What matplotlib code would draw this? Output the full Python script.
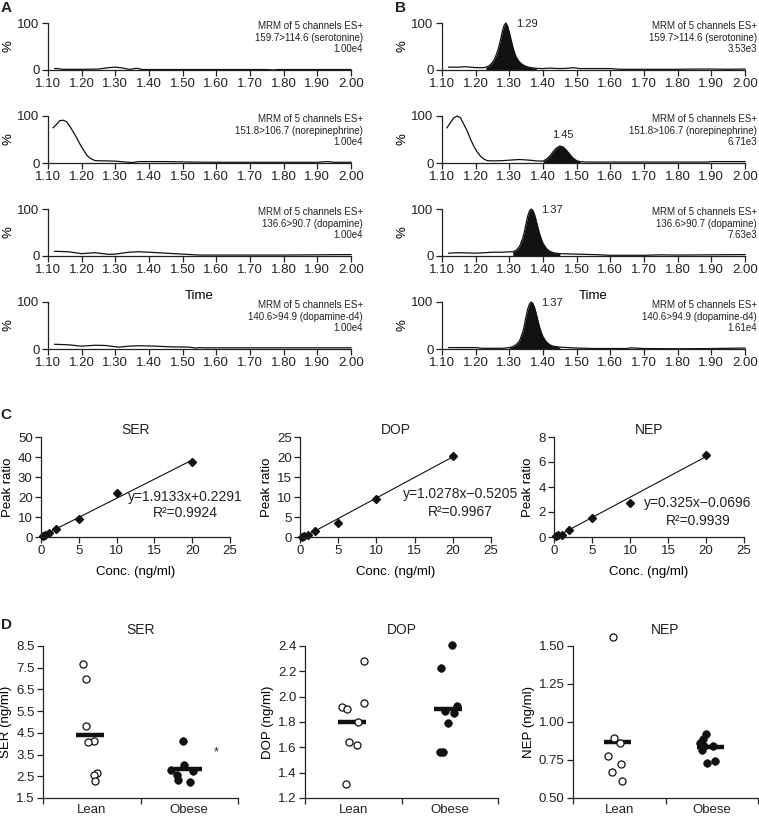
import numpy as np
import matplotlib
matplotlib.use('Agg')
import matplotlib.pyplot as plt

plt.rcParams['font.family'] = ['Liberation Sans', 'DejaVu Sans']
plt.rcParams['text.color'] = '#222222'
plt.rcParams['axes.edgecolor'] = '#222222'
plt.rcParams['xtick.color'] = '#222222'
plt.rcParams['ytick.color'] = '#222222'

# ---- panel A / B : chromatograms (time, % intensity) ----
a1_t = [1.12, 1.13, 1.14, 1.20, 1.25, 1.28, 1.30, 1.32, 1.34, 1.35, 1.36, 1.37, 1.38, 1.45, 1.60, 1.75, 1.77, 1.78, 1.85, 2.00]
a1_v = [3, 3, 1.5, 1.5, 2, 5, 6, 4.5, 1.5, 2, 3.5, 3, 1, 1, 1, 1, 0, 1, 1, 1]
a2_t = [1.115, 1.125, 1.135, 1.145, 1.155, 1.165, 1.175, 1.185, 1.195, 1.205, 1.215, 1.225, 1.24, 1.30, 1.33, 1.35,
        1.37, 1.45, 1.52, 1.60, 1.90, 1.93, 1.95, 2.00]
a2_v = [75, 82, 90, 91, 88, 78, 66, 54, 40, 28, 17, 10, 5, 4, 2, 1, 3, 3, 2, 1.5, 1.5, 3, 1.5, 1.5]
a3_t = [1.12, 1.16, 1.20, 1.24, 1.28, 1.30, 1.34, 1.37, 1.40, 1.45, 1.50, 1.55, 1.60, 1.80, 1.99, 2.00]
a3_v = [10, 9, 5, 7, 3.5, 4, 8, 9, 8, 6, 4, 2, 2, 2, 3, 3]
a4_t = [1.12, 1.16, 1.20, 1.24, 1.27, 1.31, 1.34, 1.37, 1.42, 1.47, 1.52, 1.54, 1.55, 1.57, 1.70, 2.00]
a4_v = [10, 9, 6, 8, 7.5, 4, 6, 7, 6, 4.5, 4, 2, 3, 2.5, 2.5, 2.5]

b1_t = [1.12, 1.15, 1.17, 1.19, 1.21, 1.225, 1.23, 1.24, 1.25, 1.255, 1.26, 1.265, 1.27, 1.275, 1.28, 1.285, 1.29,
        1.295, 1.30, 1.305, 1.31, 1.315, 1.32, 1.33, 1.34, 1.35, 1.36, 1.38, 1.40, 1.42, 1.45, 1.47, 1.49, 1.51,
        1.55, 1.60, 1.63, 1.70, 1.80, 1.85, 1.90, 1.95, 2.00]
b1_v = [6, 6, 7, 5.5, 5, 5, 6, 9, 16, 22, 30, 40, 53, 68, 84, 96, 100, 93, 80, 65, 50, 38, 28, 17, 11, 7.5, 5.5,
        3.5, 3, 4, 3, 3.5, 5, 3, 3, 3, 1.5, 1.5, 1.5, 2, 2, 1.5, 2]
b2_t = [1.115, 1.125, 1.135, 1.145, 1.155, 1.165, 1.175, 1.185, 1.195, 1.205, 1.215, 1.225, 1.235, 1.25, 1.28,
        1.30, 1.33, 1.36, 1.38, 1.40, 1.41, 1.42, 1.43, 1.44, 1.45, 1.46, 1.47, 1.48, 1.49, 1.50, 1.51, 1.53,
        1.60, 1.70, 1.80, 1.89, 1.90, 1.95, 2.00]
b2_v = [75, 86, 96, 100, 96, 82, 68, 50, 35, 23, 14, 8, 5, 4.5, 5, 6, 7.5, 6, 4.5, 4, 8, 15, 24, 32, 36, 34, 27,
        18, 10, 5, 3, 2, 2, 2, 2, 2, 3, 3, 3]
b3_t = [1.12, 1.15, 1.20, 1.25, 1.28, 1.30, 1.31, 1.32, 1.33, 1.34, 1.345, 1.35, 1.355, 1.36, 1.365, 1.37, 1.375,
        1.38, 1.385, 1.39, 1.395, 1.40, 1.41, 1.42, 1.43, 1.45, 1.50, 1.55, 1.60, 1.70, 1.75, 1.80, 1.90, 2.00]
b3_v = [6, 7, 6, 8, 8, 9, 9, 12, 20, 38, 53, 70, 86, 96, 100, 97, 88, 75, 60, 47, 36, 27, 16, 10, 7, 5, 4, 3,
        1.5, 1.5, 2.5, 2, 2.5, 3]
b4_t = [1.12, 1.15, 1.20, 1.22, 1.28, 1.30, 1.31, 1.32, 1.33, 1.34, 1.345, 1.35, 1.355, 1.36, 1.365, 1.37, 1.375,
        1.38, 1.385, 1.39, 1.395, 1.40, 1.41, 1.42, 1.43, 1.45, 1.50, 1.55, 1.60, 1.65, 1.66, 1.70, 1.80, 1.90, 2.00]
b4_v = [3, 3, 3, 1.5, 1.5, 3, 5, 9, 17, 36, 52, 70, 86, 96, 100, 97, 88, 75, 60, 46, 35, 26, 15, 9, 6, 4, 2, 1,
        1, 1, 2.5, 1, 0.5, 1, 2]

channels = ['159.7>114.6 (serotonine)', '151.8>106.7 (norepinephrine)',
            '136.6>90.7 (dopamine)', '140.6>94.9 (dopamine-d4)']
scale_a = ['1.00e4', '1.00e4', '1.00e4', '1.00e4']
scale_b = ['3.53e3', '6.71e3', '7.63e3', '1.61e4']
peak_rt = ['1.29', '1.45', '1.37', '1.37']
peak_win = [(1.23, 1.39), (1.40, 1.51), (1.31, 1.45), (1.30, 1.45)]

# ---- panel C : calibration curves ----
conc = [0.25, 0.5, 1, 2, 5, 10, 20]
ser_ratio = [0.5, 1.0, 2.0, 3.8, 8.8, 21.8, 37.6]
dop_ratio = [0.1, 0.2, 0.6, 1.6, 3.6, 9.6, 20.3]
nep_ratio = [0.1, 0.15, 0.2, 0.6, 1.55, 2.75, 6.6]
fit_slope = [1.9133, 1.0278, 0.325]
fit_icpt = [0.2291, -0.5205, -0.0696]
eq_text = ['y=1.9133x+0.2291', 'y=1.0278x\u22120.5205', 'y=0.325x\u22120.0696']
r2_text = ['R\u00b2=0.9924', 'R\u00b2=0.9967', 'R\u00b2=0.9939']

# ---- panel D : lean vs obese ----
ser_lean = [7.65, 6.96, 4.8, 4.12, 4.07, 2.65, 2.58, 2.30]
ser_obese = [4.13, 3.0, 2.78, 2.75, 2.55, 2.32, 2.24]
dop_lean = [2.28, 1.95, 1.92, 1.90, 1.80, 1.64, 1.62, 1.31]
dop_obese = [2.41, 2.23, 1.93, 1.885, 1.87, 1.79, 1.566, 1.566]
nep_lean = [1.557, 0.896, 0.86, 0.775, 0.726, 0.671, 0.614]
nep_obese = [0.918, 0.891, 0.865, 0.845, 0.845, 0.819, 0.746, 0.733]
# horizontal jitter of dots (layout only)
ser_lean_jit = [-0.093, -0.059, -0.059, 0.026, -0.035, 0.051, 0.023, 0.033]
ser_obese_jit = [-0.065, -0.05, -0.187, 0.04, -0.13, -0.113, 0.01]
dop_lean_jit = [0.115, 0.108, -0.113, -0.065, 0.05, -0.04, 0.04, -0.072]
dop_obese_jit = [0.023, -0.087, 0.07, -0.05, 0.044, -0.02, -0.104, -0.07]
nep_lean_jit = [-0.07, -0.06, 0.01, -0.118, 0.022, -0.075, 0.03]
nep_obese_jit = [-0.062, -0.095, -0.127, -0.084, 0.014, -0.105, 0.035, -0.05]

W, H = 759, 816
fig = plt.figure(figsize=(W / 100, H / 100), dpi=100)


def box(x0, y0, x1, y1):
    # pixel box (left, top, right, bottom) -> figure fraction
    return [x0 / W, 1 - y1 / H, (x1 - x0) / W, (y1 - y0) / H]


def style(ax):
    for s in ['top', 'right']:
        ax.spines[s].set_visible(False)
    ax.spines['left'].set_linewidth(0.9)
    ax.spines['bottom'].set_linewidth(0.9)
    ax.tick_params(direction='out', length=4, width=0.9, pad=2)


def chrom(ax, t, v, chan, scale, peak=None, win=None):
    style(ax)
    t = np.array(t)
    v = np.array(v)
    ax.plot(t, v, color='#111111', lw=0.9, clip_on=False)
    if win is not None:
        m = (t >= win[0]) & (t <= win[1])
        ax.fill_between(t[m], 0, v[m], color='#111111', lw=0)
        k = int(np.argmax(v[m]))
        tk, vk = t[m][k], v[m][k]
        if vk < 60:
            ax.text(tk + 0.008, vk + 12, peak, fontsize=8, ha='center', va='bottom')
        else:
            ax.text(tk + 0.03, 97, peak, fontsize=8, ha='left', va='center')
    ax.set_xlim(1.10, 2.00)
    ax.set_ylim(0, 100)
    ax.set_xticks(np.arange(1.10, 2.001, 0.10))
    ax.set_xticklabels(['%.2f' % x for x in np.arange(1.10, 2.001, 0.10)], fontsize=9.5)
    ax.set_yticks([0, 100])
    ax.set_yticklabels(['0', '100'], fontsize=9.5)
    ax.set_ylabel('%', fontsize=9.5, labelpad=2)
    ax.text(1.04, 1.04, 'MRM of 5 channels ES+\n' + chan + '\n' + scale, transform=ax.transAxes,
            ha='right', va='top', fontsize=7, linespacing=1.2)


tops = [23, 116, 209, 302]
a_data = [(a1_t, a1_v), (a2_t, a2_v), (a3_t, a3_v), (a4_t, a4_v)]
b_data = [(b1_t, b1_v), (b2_t, b2_v), (b3_t, b3_v), (b4_t, b4_v)]
for i in range(4):
    axa = fig.add_axes(box(48, tops[i], 351, tops[i] + 47))
    chrom(axa, a_data[i][0], a_data[i][1], channels[i], scale_a[i])
    axb = fig.add_axes(box(442, tops[i], 745, tops[i] + 47))
    chrom(axb, b_data[i][0], b_data[i][1], channels[i], scale_b[i], peak_rt[i], peak_win[i])
    if i == 2:
        axa.set_xlabel('Time', fontsize=9.5, labelpad=10)
        axb.set_xlabel('Time', fontsize=9.5, labelpad=10)

# panel C
c_boxes = [(41, 437, 230, 537), (300, 437, 491, 537), (554, 437, 744, 537)]
c_ratio = [ser_ratio, dop_ratio, nep_ratio]
c_names = ['SER', 'DOP', 'NEP']
c_ymax = [50, 25, 8]
c_yticks = [np.arange(0, 51, 10), np.arange(0, 26, 5), np.arange(0, 9, 2)]
c_eq_pos = [(0.762, 0.40, 0.24), (0.838, 0.43, 0.25), (0.758, 0.34, 0.16)]
for i in range(3):
    ax = fig.add_axes(box(*c_boxes[i]))
    style(ax)
    xs = np.array([conc[0], conc[-1]])
    ax.plot(xs, fit_slope[i] * xs + fit_icpt[i], color='#111111', lw=0.8)
    ax.plot(conc, c_ratio[i], 'D', color='#111111', ms=4.2, clip_on=False)
    ax.set_xlim(0, 25)
    ax.set_ylim(0, c_ymax[i])
    ax.set_xticks(np.arange(0, 26, 5))
    ax.set_yticks(c_yticks[i])
    ax.tick_params(labelsize=9.5)
    ax.set_title(c_names[i], fontsize=10, pad=1)
    ax.set_xlabel('Conc. (ng/ml)', fontsize=9.5, labelpad=6)
    ax.set_ylabel('Peak ratio', fontsize=9.5, labelpad=3)
    ex, ey1, ey2 = c_eq_pos[i]
    ax.text(ex, ey1, eq_text[i], transform=ax.transAxes, ha='center', va='center', fontsize=10)
    ax.text(ex, ey2, r2_text[i], transform=ax.transAxes, ha='center', va='center', fontsize=10)

# panel D
d_boxes = [(43, 646, 238, 798), (305, 646, 498, 798), (573, 646, 758, 798)]
d_lean = [ser_lean, dop_lean, nep_lean]
d_obese = [ser_obese, dop_obese, nep_obese]
d_ljit = [ser_lean_jit, dop_lean_jit, nep_lean_jit]
d_ojit = [ser_obese_jit, dop_obese_jit, nep_obese_jit]
d_ylim = [(1.5, 8.5), (1.2, 2.4), (0.5, 1.5)]
d_yticks = [np.arange(1.5, 8.6, 1.0), np.arange(1.2, 2.41, 0.2), np.arange(0.5, 1.51, 0.25)]
d_fmt = ['%.1f', '%.1f', '%.2f']
for i in range(3):
    ax = fig.add_axes(box(*d_boxes[i]))
    style(ax)
    lean = np.array(d_lean[i])
    obese = np.array(d_obese[i])
    ax.scatter(0.5 + np.array(d_ljit[i]), lean, s=26, facecolor='white', edgecolor='#111111',
               linewidth=0.9, zorder=3, clip_on=False)
    ax.scatter(1.5 + np.array(d_ojit[i]), obese, s=30, facecolor='#111111', edgecolor='#111111',
               linewidth=0.5, zorder=3, clip_on=False)
    ax.hlines([lean.mean()], 0.5 - 0.16, 0.5 + 0.13, color='#111111', lw=3.2, zorder=2)
    ax.hlines([obese.mean()], 1.5 - 0.16, 1.5 + 0.13, color='#111111', lw=3.2, zorder=2)
    ax.set_xlim(0, 2)
    ax.set_ylim(*d_ylim[i])
    ax.set_xticks([0, 1, 2])
    ax.set_xticklabels(['', '', ''])
    ax.set_xticks([0.5, 1.5], minor=True)
    ax.set_xticklabels(['Lean', 'Obese'], minor=True, fontsize=9.5)
    ax.tick_params(axis='x', which='minor', length=0, pad=4)
    ax.set_yticks(d_yticks[i])
    ax.set_yticklabels([d_fmt[i] % y for y in d_yticks[i]], fontsize=9.5)
    ax.set_title(c_names[i], fontsize=10, pad=9)
    ax.set_ylabel(c_names[i] + ' (ng/ml)', fontsize=9.5, labelpad=3)
    if i == 0:
        ax.text(1.78, 3.6, '*', fontsize=9, ha='center', va='center')

# panel letters
for lab, x, y in [('A', 6, 8), ('B', 400, 8), ('C', 6, 415), ('D', 6, 625)]:
    fig.text(x / W, 1 - y / H, lab, fontsize=11, fontweight='bold', ha='center', va='center')

fig.savefig('out.png', dpi=100)
plt.close(fig)
